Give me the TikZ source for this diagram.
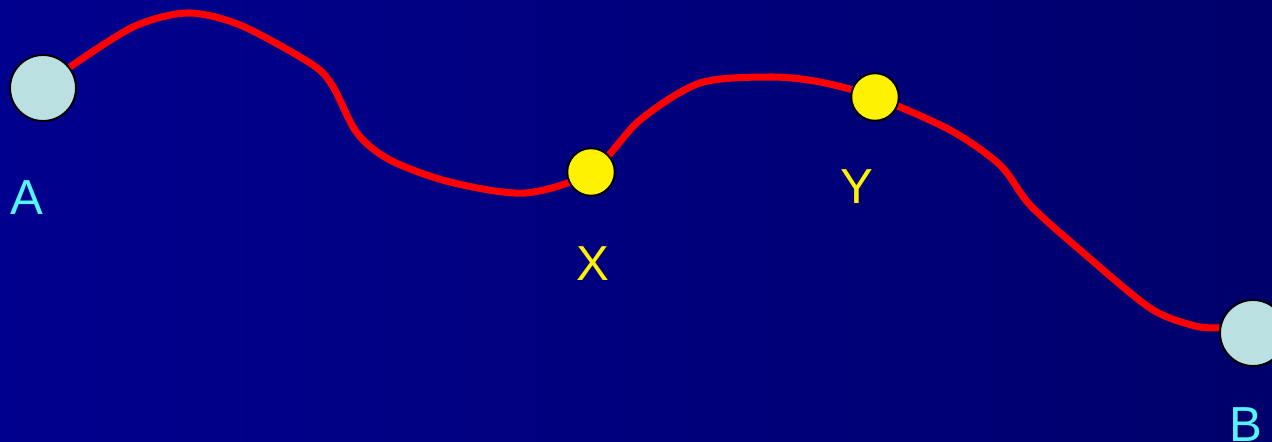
\documentclass[tikz,border=0pt]{standalone}
\usepackage{fontspec}
\setmainfont{Liberation Sans}
\usepackage{xcolor}
\usepackage{tikz}
\definecolor{bgleft}{HTML}{00008E}
\definecolor{bgright}{HTML}{00006C}
\definecolor{endfill}{HTML}{BBE0E2}
\definecolor{endtext}{HTML}{55F5FF}
\definecolor{pathred}{HTML}{FF0000}
\usetikzlibrary{backgrounds}

\begin{document}
\begin{tikzpicture}[x=0.02cm,y=-0.02cm,
  endpt/.style={circle,draw=black,line width=1.1pt,fill=endfill,minimum size=1.32cm,inner sep=0pt},
  midpt/.style={circle,draw=black,line width=1.1pt,fill=yellow,minimum size=0.95cm,inner sep=0pt},
  lbl/.style={inner sep=0pt,font=\fontsize{28}{34}\selectfont}]
\useasboundingbox (0,0) rectangle (1272,442);
% end points and the two points on the route
\node[endpt] (A) at (43,88) {};
\node[endpt] (B) at (1253,333) {};
\node[midpt] (X) at (591,172) {};
\node[midpt] (Y) at (875,97) {};
\node[lbl,text=endtext] (labA) at (27,198) {A};
\node[lbl,text=endtext] (labB) at (1246,425) {B};
\node[lbl,text=yellow] (labX) at (593,264) {X};
\node[lbl,text=yellow] (labY) at (857,187) {Y};
\begin{scope}[on background layer]
\shade[left color=bgleft,right color=bgright] (0,0) rectangle (1272,442);
\draw[line width=4pt,color=pathred] plot[smooth] coordinates
  {(A.38) (133,27) (187,13) (240,25) (310,63) (332,85) (357,133) (390,160) (450,182) (525,193) (X)
   (640,120) (700,83) (770,77) (820,82) (Y) (950,130) (1000,165) (1030,205) (1080,250) (1150,308) (1195,326) (B.171)};
\end{scope}
\end{tikzpicture}
\end{document}
